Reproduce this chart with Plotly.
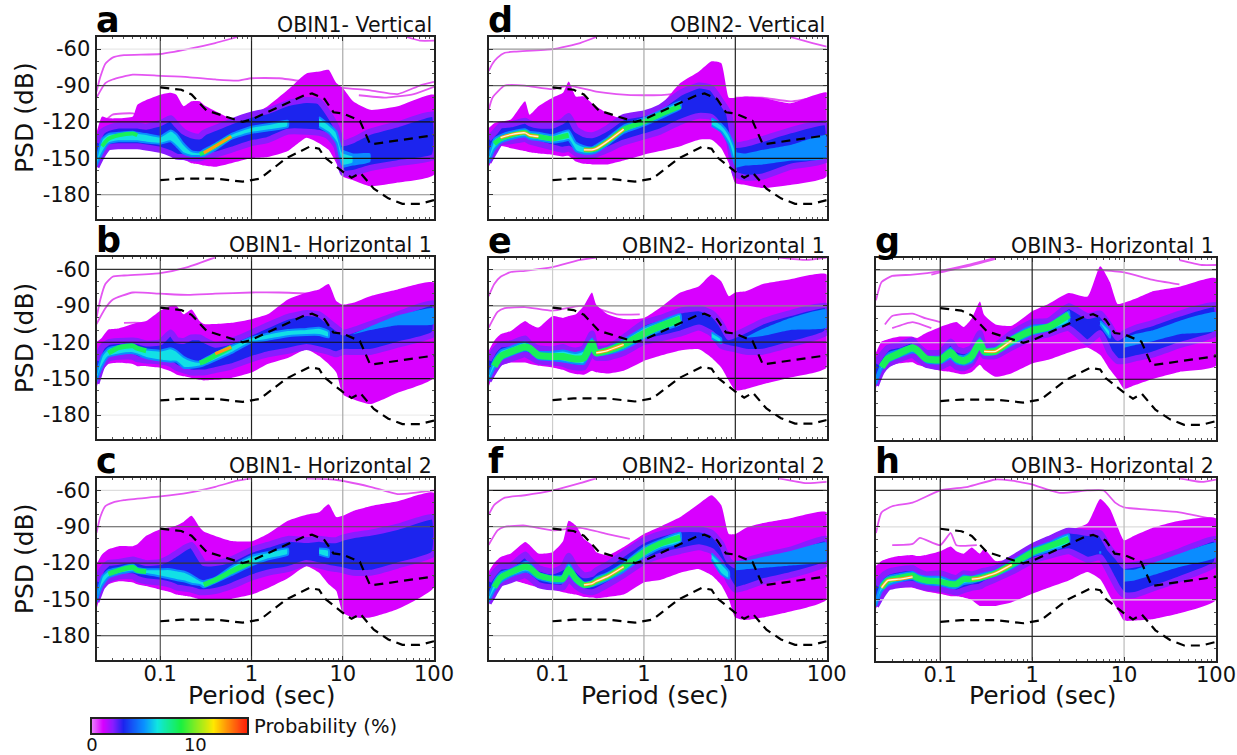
import plotly.graph_objects as go

W, H = 1237, 755

PERIODS = [0.02,0.023,0.027,0.035,0.05,0.056,0.07,0.1,0.13,0.15,0.18,0.22,0.27,0.3,0.4,0.6,1,1.5,2.5,4,5.5,7,8.5,10,13,20,40,100]
AZ_PERIODS = [10,13,20,40,100]
_ = None

HNM_P = [0.1,0.17,0.22,0.32,0.8,1.0,3.8,4.6,6.3,7.9,10,15.4,20,100]
HNM_DB = [-91.5,-93.5,-97.4,-110.5,-120,-118,-98,-96.5,-101,-112,-113,-119,-138.5,-131]
LNM_P = [0.1,0.17,0.4,0.8,1.24,2.4,4.3,5.5,6.3,10,12.5,15.6,21.9,31.6,45,70,100]
LNM_DB = [-168,-166.7,-166.7,-169.2,-166.7,-150,-140.5,-142,-149,-161,-166,-162,-175,-183,-187.5,-187.5,-184.5]

Y_GRID_VALUES = [-60,-90,-120,-150,-180]
X_GRID_VALUES = [0.1,1,10]

# ---- panel a
A_ENV_HI = [-129,-115.5,-117,-117,-115.5,-106,-102,-97.6,-96,-97.6,-107,-103,-103,-106,-111,-117,-114,-107,-93.5,-80,-78.4,-77,-88,-92,-103,-110,-107,-97.6]
A_ENV_LO = [-159,-146,-140,-140,-140,-140,-140,-143,-146,-150,-151,-154,-155,-156,-157,-154,-150,-149,-144,-133,-137.5,-143,-154,-165,-168,-173,-170,-163.5]
A_BLUE_HI = [-137,-128,-125,-123,-123,-123,-124,-121,-117,-122,-128,-131,-132,-129,-125,-119.6,-114,-111,-104.5,-102,-103,-113,-124,-137.5,-135,-128,-122,-114]
A_BLUE_LO = [-157,-148,-141,-140,-140,-140,-141,-143,-146,-148.5,-149,-150,-150,-149,-147,-143,-137.5,-135,-128,-128,-129,-132,-140,-162,-162,-158,-154,-148.5]
A_CORE_HI = [-150,-134,-130,-129,-128,-129,-130,-132,-127,-130,-138,-144,-145,-143,-138,-130,-124,-122,-119,_,-116,-122,-128,-145,-148,_,_,_]
A_CORE_LO = [-156,-146,-138,-136,-136,-136,-137,-138,-136,-140,-146,-148,-148,-148,-143,-134,-129,-127,-124,_,-124,-129,-137,-156,-154,_,_,_]
A_AZ_HI = [-143,-146,-146,_,_]
A_AZ_LO = [-158,-156,-153,_,_]
A_MODE = [_,-140,-134,-131,-129.5,-131,_,_,_,_,_,_,-146.5,-145.5,-140,-132,_,_,_,_,_,_,_,_,_,_,_,_]
A_HOT = [_,_,_,_,_,_,_,_,_,_,_,_,_,-145.5,-140,-132,_,_,_,_,_,_,_,_,_,_,_,_]
A_OUT_P = [[0.02,0.022,0.025,0.03,0.04,0.1,0.2,0.4,0.7],[50,70,100],[0.02,0.025,0.03,0.05,0.1,0.2,0.4,0.7,1,2,4],[10,20,40,70,100],[15,30,60,100],[0.025,0.03,0.05,0.06]]
A_OUT_DB = [[-95,-83,-72,-67,-65,-64,-60,-55,-50],[-50,-53,-53],[-100,-88,-85,-81,-82,-83,-85,-86,-84,-84,-87],[-92,-94,-97,-90,-87],[-98,-100,-97,-91],[-119,-114,-113,-116]]
A_YGRID = ['#e8e8e8','#444444','#111111','#111111','#888888']
A_XGRID = ['#555555','#222222','#aaaaaa']

# ---- panel b
B_ENV_HI = [-120,-116,-109.5,-108.6,-105,-104,-102.6,-94,-90,-90,-97,-93,-102.6,-105,-105,-104,-101,-97,-84.7,-79,-76.5,-72,-86,-89,-87.5,-82,-76.5,-71]
B_ENV_LO = [-157.5,-144,-138,-137,-138,-139.7,-139.7,-141,-144,-146.5,-148,-149.4,-151,-151.5,-151,-149.4,-145,-138,-133,-126,-131.4,-138,-145,-163,-167,-171,-161.6,-149]
B_BLUE_HI = [-135,-124,-120,-119,-118.5,-119,-121,-120,-112,-118,-119,-116,-116,-118,-122,-119,-112,-106,-99,-96,-97,-103,-108,-112,-110,-105,-97,-88]
B_BLUE_LO = [-154,-140,-133.5,-132,-132,-134,-135,-136,-138,-141,-143,-145,-145,-145,-143,-140,-134,-130,-127,-124,-126,-128,-130,-128,-128,-128,-122,-113]
B_CORE_HI = [-146,-131,-125,-123,-122,-125,-126,-127,-125,-127,-132,-135,-136,-134,-129,-123,-116,-113,-110,-109,-108,-111,_,_,_,_,_,_]
B_CORE_LO = [-152,-140,-132,-130,-129,-130,-133,-135,-136,-136,-141,-141,-140,-139,-135,-129,-120,-118,-115,-114,-114,-116,_,_,_,_,_,_]
B_AZ_HI = [_,-113,-107,-98,-92]
B_AZ_LO = [_,-113.5,-110,-106,-105]
B_MODE = [_,_,-129,-124.5,-123,-125,-127,_,_,_,_,_,-137,-136,-131,-124,_,_,_,_,_,_,_,_,_,_,_,_]
B_HOT = [_,_,_,_,_,_,_,_,_,_,_,_,_,_,-129.5,-124,_,_,_,_,_,_,_,_,_,_,_,_]
B_OUT_P = [[0.02,0.022,0.025,0.03,0.04,0.1,0.2,0.4],[0.02,0.025,0.03,0.05,0.1,0.2,0.4,1,2,4,6],[0.04,0.06,0.07]]
B_OUT_DB = [[-100,-85,-72,-66,-65,-63,-58,-50],[-105,-92,-85,-79,-80,-81,-80,-79,-79,-80,-83],[-104,-104,-106]]
B_YGRID = ['#333333','#444444','#111111','#111111','#eeeeee']
B_XGRID = ['#555555','#222222','#aaaaaa']

# ---- panel c
C_ENV_HI = [-121,-113,-108.6,-106,-106,-104.5,-97.5,-92,-90.5,-89,-86,-81,-90.5,-94,-97.6,-101.7,-102,-96,-85,-80,-78,-71.5,-82,-81,-77,-73,-69,-62]
C_ENV_LO = [-158,-143,-137.5,-135,-136,-137.5,-139,-142,-144,-146,-147,-148,-150,-150.5,-150.5,-149.6,-146,-140.7,-132.5,-122.6,-128,-137.5,-143,-161,-165,-165,-158,-140]
C_BLUE_HI = [-135,-125,-120,-119,-117,-118,-120,-119,-115,-112,-108,-105,-115,-120,-120,-117,-109,-105,-100,-101,-100,-101,-101,-99,-97,-95,-90,-82]
C_BLUE_LO = [-152,-140,-134,-131,-131,-133,-135,-136,-138,-140,-141,-142,-144,-144,-143,-139,-132,-128,-125,-120,-122,-124,-125,-126,-128,-128,-122,-112]
C_CORE_HI = [-147,-131,-126,-124,-121,-124,-125,-125,-125,-126,-127,-130,-134,-135,-132,-123,-114,-111,-108,_,-108,-109,_,_,_,_,_,_]
C_CORE_LO = [-152,-139,-132,-129,-127,-128,-129,-131,-133,-134,-135,-137,-138,-140,-136,-130,-122,-117,-113,_,-113,-115,_,_,_,_,_,_]
C_AZ_HI = [_,_,_,_,_]
C_AZ_LO = [_,_,_,_,_]
C_MODE = [_,_,-129,-126,-123.5,-126,-127,_,_,_,_,_,_,-138,-134,-127,-119,_,_,_,_,_,_,_,_,_,_,_]
C_HOT = [_]*28
C_OUT_P = [[0.02,0.022,0.025,0.03,0.04,0.1,0.2,0.4,0.7,1],[4,8,20,40,100]]
C_OUT_DB = [[-95,-82,-73,-70,-68,-65,-62,-57,-52,-50],[-50,-51,-57,-63,-60]]
C_YGRID = ['#dddddd','#555555','#333333','#111111','#333333']
C_XGRID = ['#555555','#222222','#aaaaaa']

# ---- panel d
D_ENV_HI = [-125,-121,-119.6,-118,-103,-114,-107,-100,-96,-86.6,-99,-99,-104.5,-107,-113,-117.7,-115.5,-107,-88,-78.4,-70,-71.5,-100,-100,-99,-100,-104.5,-96]
D_ENV_LO = [-157,-148.5,-140,-141.6,-144,-145,-146,-147,-148.5,-148,-152.6,-154.5,-155,-155,-155,-151.8,-147,-144,-140,-134.7,-134.7,-141.6,-154,-170.4,-172,-174.5,-172,-165]
D_BLUE_HI = [-134,-129,-123,-122,-119,-121,-123,-123,-119,-115,-126,-130,-131,-130,-125,-116,-113,-108,-96,-90,-92,-103,-113,-139,-138,-134,-127,-121]
D_BLUE_LO = [-153,-145,-137,-136,-134,-136,-138,-141,-143,-142,-146,-148,-148,-147,-143,-137,-132,-128,-120,-115,-116,-125,-136,-163,-166,-165,-157,-151]
D_CORE_HI = [-148,-134,-131,-128,-126,-128,-129,-131,-128,-127,-137,-140,-141,-139,-133,-123,-117,-111,-103,_,-117,-122,-130,-143,_,_,_,_]
D_CORE_LO = [-154,-143,-137,-134,-132,-134,-135,-137,-136,-135,-144,-146,-146,-145,-139,-129,-123,-117,-109,_,-123,-128,-138,-156,_,_,_,_]
D_AZ_HI = [-145,-146,-143,-139,-131]
D_AZ_LO = [-158,-156,-155,-152,-150]
D_MODE = [_,-138,-134,-131,-128.5,-131,-132,-134,-132,-131,_,-143,-143,-142,-136,-126,-120,-114,-107,_,_,_,_,_,_,_,_,_]
D_HOT = [_,_,-133,-130.5,-129,-131,-132,_,_,_,_,-143,-143,-142,-136,-126,_,_,_,_,_,_,_,_,_,_,_,_]
D_OUT_P = [[0.02,0.022,0.025,0.03,0.04,0.1,0.2,0.3],[40,70,100],[0.02,0.022,0.03,0.05,0.1,0.15,0.3,0.5,1,2,4],[10,20,40,70,100]]
D_OUT_DB = [[-78,-72,-67,-63,-62,-60,-55,-50],[-50,-55,-58],[-110,-100,-90,-90,-93,-90,-95,-97,-98,-97,-90],[-100,-100,-103,-100,-96]]
D_YGRID = ['#999999','#666666','#111111','#111111','#cccccc']
D_XGRID = ['#bbbbbb','#aaaaaa','#222222']

# ---- panel e
E_ENV_HI = [-127.3,-119,-113.6,-110.8,-102.6,-105,-108,-98.5,-100,-98.5,-97,-90,-79,-89,-97,-101,-100,-91.6,-79,-73.7,-64,-69.6,-82,-79,-78,-72,-68,-64]
E_ENV_LO = [-157,-145,-139.6,-137,-137,-138,-139.6,-141,-143,-145,-146.5,-147,-143.7,-145,-146,-143.7,-135.6,-131.4,-127,-126,-133,-141,-152,-160,-159,-155,-149.4,-141]
E_BLUE_HI = [-135,-127,-122,-121,-117,-121,-125,-126,-124,-126,-127,-125,-113,-125,-125,-116,-104,-100,-94,-92,-96,-105,-116,-114,-110,-103,-96,-90]
E_BLUE_LO = [-152,-144,-137,-134,-130,-132,-136,-137,-138,-140,-141,-141,-129,-133,-133,-129,-120,-117,-113,-108,-113,-123,-125,-126,-128,-128,-122,-112]
E_CORE_HI = [-147,-134,-127,-124,-120,-123,-128,-128,-127,-128,-129,-127,-117,-127,-125,-118,-108,-103,-97,_,-112,-117,_,_,_,_,_,_]
E_CORE_LO = [-152,-142,-135,-131,-127,-128,-134,-135,-136,-137,-138,-138,-127,-131,-130,-126,-117,-111,-105,_,-117,-121,_,_,_,_,_,_]
E_AZ_HI = [_,-116,-109,-100,-93]
E_AZ_LO = [_,-116.5,-115,-110,-108]
E_MODE = [_,-140,-132,-128,-124,-125,-131,-132,-132,-133,-134,-133,-121,-129,-127,-122,-113,-107,-101,_,_,_,_,_,_,_,_,_]
E_HOT = [_,_,_,_,_,_,_,_,_,_,_,_,_,-129,-127,-122,_,_,_,_,_,_,_,_,_,_,_,_]
E_OUT_P = [[0.02,0.023,0.027,0.035,0.05,0.1,0.2,0.3],[30,60,100],[0.02,0.025,0.03,0.05,0.1,0.2,0.3,0.5,0.9]]
E_OUT_DB = [[-82,-72,-66,-62,-61,-58,-52,-50],[-50,-52,-50],[-108,-95,-92,-91,-94,-90,-92,-97,-97]]
E_YGRID = ['#dddddd','#888888','#222222','#111111','#333333']
E_XGRID = ['#cccccc','#aaaaaa','#222222']

# ---- panel f
F_ENV_HI = [-127,-120,-115,-112,-102.6,-105,-112,-111,-102,-85,-89,-100,-105,-110.8,-113.6,-106.7,-96,-90,-82,-71,-64,-72,-96,-96,-91,-87,-83,-78]
F_ENV_LO = [-155,-143,-137,-134,-137,-138,-140,-142,-144,-145,-146,-148,-148.5,-149,-148,-146,-136,-134,-128,-125,-130,-138,-150,-165,-167,-165,-160,-150]
F_BLUE_HI = [-135,-128,-123,-122,-113,-117,-124,-127,-123,-114,-124,-130,-129,-126,-121,-112,-101,-96,-92,-92,-95,-104,-118,-122,-118,-114,-109,-100]
F_BLUE_LO = [-153,-145,-137,-134,-130,-132,-138,-140,-140,-133,-139,-143,-144,-143,-138,-130,-119,-114,-110,-107,-110,-120,-135,-142,-140,-135,-130,-120]
F_CORE_HI = [-147,-135,-128,-125,-119,-120,-128,-131,-130,-120,-130,-136,-135,-132,-128,-120,-107,-101,-95,_,-112,-120,-127,_,_,_,_,_]
F_CORE_LO = [-152,-143,-136,-131,-127,-128,-133,-136,-136,-130,-136,-140,-139,-138,-134,-127,-115,-108,-103,_,-117,-129,-133,_,_,_,_,_]
F_AZ_HI = [-118,-118,-115,-110,-103]
F_AZ_LO = [-126,-125,-124,-122,-118]
F_MODE = [_,-140,-132,-127.5,-123,-124,-130,-133,-133,-125,-133,-138,-137,-135,-131,-123,-111,-104,-99,_,_,_,_,_,_,_,_,_]
F_HOT = [_,_,_,_,_,_,_,_,_,_,_,-138,-137,-135,-131,-123,_,_,_,_,_,_,_,_,_,_,_,_]
F_OUT_P = [[0.02,0.023,0.03,0.05,0.1,0.2,0.3],[30,60,100],[0.02,0.025,0.03,0.05,0.1,0.2,0.4,0.7]]
F_OUT_DB = [[-80,-72,-66,-64,-60,-54,-50],[-50,-54,-53],[-105,-93,-90,-89,-93,-91,-96,-100]]
F_YGRID = ['#111111','#777777','#222222','#111111','#aaaaaa']
F_XGRID = ['#bbbbbb','#aaaaaa','#222222']

# ---- panel g
G_ENV_HI = [-128,-119,-117,-115,-115,-116,-112,-107,-104,-103,-107,-100,-86,-97,-105,-106,-94,-88,-79,-82,-57,-70,-88,-87,-84,-78,-74,-67]
G_ENV_LO = [-157,-146,-140,-137,-136,-138,-140,-143,-144,-145,-146,-144,-138,-142,-148,-145,-137,-134,-128,-124,-130,-142,-150,-158,-155,-150,-144,-139]
G_BLUE_HI = [-137,-130,-124,-122,-118,-122,-128,-128,-119,-125,-127,-124,-112,-122,-122,-112,-103,-102,-90,-98,-96,-106,-116,-112,-108,-104,-96,-89]
G_BLUE_LO = [-155,-144,-138,-134,-130,-133,-138,-140,-136,-140,-141,-137,-126,-131,-131,-124,-116,-113,-108,-120,-112,-128,-135,-135,-133,-130,-122,-112]
G_CORE_HI = [-149,-137,-129,-126,-122,-124,-131,-131,-124,-130,-131,-127,-116,-125,-124,-115,-106,-105,-94,_,-102,-110,_,_,_,_,_,_]
G_CORE_LO = [-154,-142,-136,-132,-128,-129,-136,-137,-133,-137,-138,-136,-124,-130,-129,-122,-113,-110,-103,_,-105,-116,_,_,_,_,_,_]
G_AZ_HI = [-116,-113,-110,-102,-95]
G_AZ_LO = [-124,-122,-119,-113,-110]
G_MODE = [_,-140,-133,-129,-124,-126,-133,-134,-128,-133,-135,-131,-120,-127,-127,-118,-110,-107,-97,_,_,_,_,_,_,_,_,_]
G_HOT = [_,_,_,_,_,_,_,_,_,_,_,_,_,-127,-127,-118,_,_,_,_,_,_,_,_,_,_,_,_]
G_OUT_P = [[0.02,0.023,0.03,0.05,0.1,0.2,0.4],[0.08,0.1,0.2,0.4],[5,10,20,40],[40,70,100],[0.025,0.03,0.05,0.07,0.1],[0.03,0.05,0.08]]
G_OUT_DB = [[-85,-70,-65,-64,-61,-56,-50],[-64,-62,-57,-51],[-60,-62,-68,-72],[-52,-56,-56],[-105,-98,-96,-100,-103],[-108,-103,-108]]
G_YGRID = ['#666666','#444444','#dddddd','#111111','#666666']
G_XGRID = ['#222222','#222222','#bbbbbb']

# ---- panel h
H_ENV_HI = [-122,-118,-116,-114,-113,-114,-113,-110,-106,-110,-112,-107,-112,-108,-118,-116,-108,-103,-93,-87,-67,-75,-90,-101,-97,-91,-85,-83]
H_ENV_LO = [-157,-148,-141,-140,-140,-141,-143,-145,-147,-147,-148,-150,-155,-155,-155,-152,-145,-140,-134,-127,-133,-147,-158,-167,-167,-166,-161,-150]
H_BLUE_HI = [-138,-131,-127,-125,-124,-126,-129,-128,-131,-132,-128,-129,-127,-126,-124,-116,-106,-100,-93,-95,-95,-108,-115,-122,-121,-118,-110,-100]
H_BLUE_LO = [-155,-147,-140,-138,-137,-138,-140,-141,-143,-144,-142,-140,-139,-137,-133,-127,-118,-114,-110,-117,-115,-128,-140,-146,-146,-141,-133,-120]
H_CORE_HI = [-150,-136,-131,-129,-127,-129,-131,-131,-134,-134,-130,-131,-129,-128,-126,-118,-108,-103,-96,_,-110,_,_,_,_,_,_,_]
H_CORE_LO = [-155,-143,-138,-135,-133,-135,-137,-138,-140,-140,-137,-136,-134,-133,-130,-124,-114,-110,-104,_,-112,_,_,_,_,_,_,_]
H_AZ_HI = [-125,-125,-120,-112,-103]
H_AZ_LO = [-135,-134,-130,-123,-115]
H_MODE = [_,-140,-134,-132,-130,-132,-134,-135,-137,-137,-133,-133,-132,-131,-128,-121,-111,-106,-100,_,_,_,_,_,_,_,_,_]
H_HOT = [_,-140,-134,-133,-131,_,_,-135,_,_,_,-133,-132,-131,-128,-121,_,_,_,_,_,_,_,_,_,_,_,_]
H_OUT_P = [[0.02,0.023,0.03,0.05,0.1,0.2,0.4,0.6,1],[1,2,4,6,8,10,20,40,100],[40,70,100],[0.03,0.05,0.06,0.1,0.13,0.15,0.25]]
H_OUT_DB = [[-95,-78,-73,-70,-60,-57,-51,-52,-55],[-55,-62,-60,-60,-70,-74,-76,-78,-84],[-50,-53,-51],[-105,-104,-99,-105,-95,-105,-105]]
H_YGRID = ['#333333','#dddddd','#111111','#dddddd','#333333']
H_XGRID = ['#222222','#222222','#bbbbbb']

COLOR_STOPS = [0,0.07,0.13,0.2,0.33,0.42,0.57,0.78,0.96,1]
COLOR_VALUES = ['#e878ff','#d800ff','#8a1cff','#1c24ee','#0a90ff','#10e6e0','#18f040','#ffe800','#ff3a10','#ff2000']
BAR_LEVELS = [0,1,2,3,4,5,6,7,8,9,10,11,12,13,14,15]

PANELS = [
 ('a','OBIN1- Vertical',96.5,434,37,219,True,False,A_ENV_HI,A_ENV_LO,A_BLUE_HI,A_BLUE_LO,A_CORE_HI,A_CORE_LO,A_AZ_HI,A_AZ_LO,A_MODE,A_HOT,A_OUT_P,A_OUT_DB,A_YGRID,A_XGRID,False,4),
 ('b','OBIN1- Horizontal 1',96.5,434,257.3,439.3,True,False,B_ENV_HI,B_ENV_LO,B_BLUE_HI,B_BLUE_LO,B_CORE_HI,B_CORE_LO,B_AZ_HI,B_AZ_LO,B_MODE,B_HOT,B_OUT_P,B_OUT_DB,B_YGRID,B_XGRID,False,5),
 ('c','OBIN1- Horizontal 2',96.5,434,478.3,660,True,True,C_ENV_HI,C_ENV_LO,C_BLUE_HI,C_BLUE_LO,C_CORE_HI,C_CORE_LO,C_AZ_HI,C_AZ_LO,C_MODE,C_HOT,C_OUT_P,C_OUT_DB,C_YGRID,C_XGRID,False,5),
 ('d','OBIN2- Vertical',488.7,826.7,37,219,False,False,D_ENV_HI,D_ENV_LO,D_BLUE_HI,D_BLUE_LO,D_CORE_HI,D_CORE_LO,D_AZ_HI,D_AZ_LO,D_MODE,D_HOT,D_OUT_P,D_OUT_DB,D_YGRID,D_XGRID,True,5),
 ('e','OBIN2- Horizontal 1',488.7,826.7,257.5,438.7,False,False,E_ENV_HI,E_ENV_LO,E_BLUE_HI,E_BLUE_LO,E_CORE_HI,E_CORE_LO,E_AZ_HI,E_AZ_LO,E_MODE,E_HOT,E_OUT_P,E_OUT_DB,E_YGRID,E_XGRID,True,7),
 ('f','OBIN2- Horizontal 2',488.7,826.7,478.3,660,False,True,F_ENV_HI,F_ENV_LO,F_BLUE_HI,F_BLUE_LO,F_CORE_HI,F_CORE_LO,F_AZ_HI,F_AZ_LO,F_MODE,F_HOT,F_OUT_P,F_OUT_DB,F_YGRID,F_XGRID,True,6),
 ('g','OBIN3- Horizontal 1',876,1216,257.7,440,False,False,G_ENV_HI,G_ENV_LO,G_BLUE_HI,G_BLUE_LO,G_CORE_HI,G_CORE_LO,G_AZ_HI,G_AZ_LO,G_MODE,G_HOT,G_OUT_P,G_OUT_DB,G_YGRID,G_XGRID,True,7),
 ('h','OBIN3- Horizontal 2',876,1216,478.3,660.7,False,True,H_ENV_HI,H_ENV_LO,H_BLUE_HI,H_BLUE_LO,H_CORE_HI,H_CORE_LO,H_AZ_HI,H_AZ_LO,H_MODE,H_HOT,H_OUT_P,H_OUT_DB,H_YGRID,H_XGRID,True,6),
]

FONT = 'DejaVu Sans'
MINOR_X = [0.03,0.04,0.05,0.06,0.07,0.08,0.09,0.2,0.3,0.4,0.5,0.6,0.7,0.8,0.9,2,3,4,5,6,7,8,9,20,30,40,50,60,70,80,90]
MINOR_Y = [-190,-170,-160,-140,-130,-110,-100,-80,-70]


def band(periods, hi, lo):
    """Polygons for each unbroken run of a hi/lo band."""
    assert len(periods) == len(hi) == len(lo), (len(periods), len(hi), len(lo))
    xs, ys, i = [], [], 0
    while i < len(periods):
        if hi[i] is None:
            i += 1
            continue
        j = i
        while j + 1 < len(periods) and hi[j + 1] is not None:
            j += 1
        xs += periods[i:j + 1] + periods[i:j + 1][::-1] + [None]
        ys += hi[i:j + 1] + lo[i:j + 1][::-1] + [None]
        i = j + 1
    return xs, ys


fig = go.Figure()
ann = []
layout = {}


def px(x):
    return x / W


def py(y):
    return 1 - y / H


for n, p in enumerate(PANELS, start=1):
    (letter, title, x0, x1, y0, y1, left, bottom, env_hi, env_lo, blue_hi, blue_lo, core_hi, core_lo,
     az_hi, az_lo, mode, hot, out_p, out_db, ygrid, xgrid, white, green_width) = p
    xa, ya = f'x{n}', f'y{n}'
    common = dict(xaxis=xa, yaxis=ya, showlegend=False, hoverinfo='skip')
    assert len(mode) == len(PERIODS) and len(hot) == len(PERIODS)

    def fill(periods, hi, lo, color, line=None, width=0):
        xs, ys = band(periods, hi, lo)
        fig.add_trace(go.Scatter(x=xs, y=ys, mode='lines', fill='toself', fillcolor=color,
                                 line=dict(color=line or color, width=width, shape='spline', smoothing=0.5), **common))

    for a, b in zip(out_p, out_db):
        fig.add_trace(go.Scatter(x=a, y=b, mode='lines', line=dict(color='#e455f2', width=1.8, shape='spline', smoothing=0.5), **common))
    fill(PERIODS, env_hi, env_lo, '#d800ff')
    fill(PERIODS, blue_hi, blue_lo, '#1c24ee', '#8a1cff', 6)
    fill(AZ_PERIODS, az_hi, az_lo, '#0a8cff')
    fill(PERIODS, core_hi, core_lo, '#12e0e6', '#0a8cff', 2)
    fig.add_trace(go.Scatter(x=PERIODS, y=mode, mode='lines', line=dict(color='#18f05a', width=green_width, shape='spline', smoothing=0.6), **common))
    fig.add_trace(go.Scatter(x=PERIODS, y=hot, mode='lines', line=dict(color='#ff9a10', width=3, shape='spline', smoothing=0.6), **common))
    if white:
        fig.add_trace(go.Scatter(x=PERIODS, y=hot, mode='lines', line=dict(color='#fff6d0', width=1.3, shape='spline', smoothing=0.6), **common))

    for v, c in zip(Y_GRID_VALUES, ygrid):
        fig.add_trace(go.Scatter(x=[0.02, 100], y=[v, v], mode='lines', line=dict(color=c, width=1.2), **common))
    for v, c in zip(X_GRID_VALUES, xgrid):
        fig.add_trace(go.Scatter(x=[v, v], y=[-200, -50], mode='lines', line=dict(color=c, width=1.2), **common))

    dash = dict(color='black', width=2.2, dash='9px,6px')
    fig.add_trace(go.Scatter(x=HNM_P, y=HNM_DB, mode='lines', line=dash, **common))
    fig.add_trace(go.Scatter(x=LNM_P, y=LNM_DB, mode='lines', line=dash, **common))

    layout[f'xaxis{n}'] = dict(
        type='log', range=[-1.69897, 2], domain=[px(x0), px(x1)], anchor=ya, automargin=False,
        tickvals=[0.1, 1, 10, 100], ticktext=['0.1', '1', '10', '100'], showticklabels=bottom, ticklabelstandoff=-6,
        tickfont=dict(family=FONT, size=21, color='#111111'), ticks='inside', ticklen=4, tickcolor='#333333',
        showgrid=False, zeroline=False, showline=True, linecolor='#222222', linewidth=2, mirror='ticks',
        minor=dict(tickvals=MINOR_X, ticks='inside', ticklen=2, tickcolor='#555555', showgrid=False))
    layout[f'yaxis{n}'] = dict(
        range=[-200, -50], domain=[py(y1), py(y0)], anchor=xa, automargin=False,
        tickvals=Y_GRID_VALUES, ticktext=[str(v) for v in Y_GRID_VALUES], showticklabels=left,
        tickfont=dict(family=FONT, size=21, color='#111111'), ticks='inside', ticklen=4, tickcolor='#333333',
        showgrid=False, zeroline=False, showline=True, linecolor='#222222', linewidth=2, mirror='ticks',
        minor=dict(tickvals=MINOR_Y, ticks='inside', ticklen=2, tickcolor='#555555', showgrid=False))

    ann.append(dict(text=letter, xref='paper', yref='paper', x=px(x0 - 2), y=py(y0 + 4), xanchor='left', yanchor='bottom',
                    showarrow=False, font=dict(family=FONT, size=35, color='black', weight='bold'), borderpad=0))
    ann.append(dict(text=title, xref='paper', yref='paper', x=px(x1 - 1), y=py(y0 + 1), xanchor='right', yanchor='bottom',
                    showarrow=False, font=dict(family=FONT, size=20.5, color='#111111'), borderpad=0))
    if left:
        ann.append(dict(text='PSD (dB)', xref='paper', yref='paper', x=px(24), y=py((y0 + y1) / 2 - 10), xanchor='center',
                        yanchor='middle', textangle=-90, showarrow=False, font=dict(family=FONT, size=25, color='#111111')))
    if bottom:
        ann.append(dict(text='Period (sec)', xref='paper', yref='paper', x=px((x0 + x1) / 2 - 3), y=py(695), xanchor='center',
                        yanchor='middle', showarrow=False, font=dict(family=FONT, size=25, color='#111111')))

# probability scale drawn as a one-row heatmap on its own axes
fig.add_trace(go.Heatmap(x=BAR_LEVELS, y=[0], z=[BAR_LEVELS], zmin=0, zmax=15, zsmooth='best', showscale=False, hoverinfo='skip',
                         colorscale=[[s, c] for s, c in zip(COLOR_STOPS, COLOR_VALUES)], xaxis='x9', yaxis='y9'))
layout['xaxis9'] = dict(range=[0, 15], domain=[px(92), px(247)], anchor='y9', automargin=False, tickvals=[0, 10], ticktext=['0', '10'], ticks='',
                        ticklabelstandoff=-6, tickfont=dict(family=FONT, size=18, color='#111111'), showgrid=False, zeroline=False,
                        showline=True, linecolor='#222222', linewidth=2, mirror=True)
layout['yaxis9'] = dict(range=[-0.5, 0.5], domain=[py(733), py(719)], anchor='x9', automargin=False, showticklabels=False, ticks='', showgrid=False,
                        zeroline=False, showline=True, linecolor='#222222', linewidth=2, mirror=True)
ann.append(dict(text='Probability (%)', xref='paper', yref='paper', x=px(252), y=py(726), xanchor='left', yanchor='middle',
                showarrow=False, font=dict(family=FONT, size=19.5, color='#111111')))

fig.update_layout(width=W, height=H, autosize=False, margin=dict(l=0, r=0, t=0, b=0), paper_bgcolor='white',
                  plot_bgcolor='white', annotations=ann, **layout)

fig.write_html('out.html', config={'displayModeBar': False}, post_script="document.body.style.margin='0';")
